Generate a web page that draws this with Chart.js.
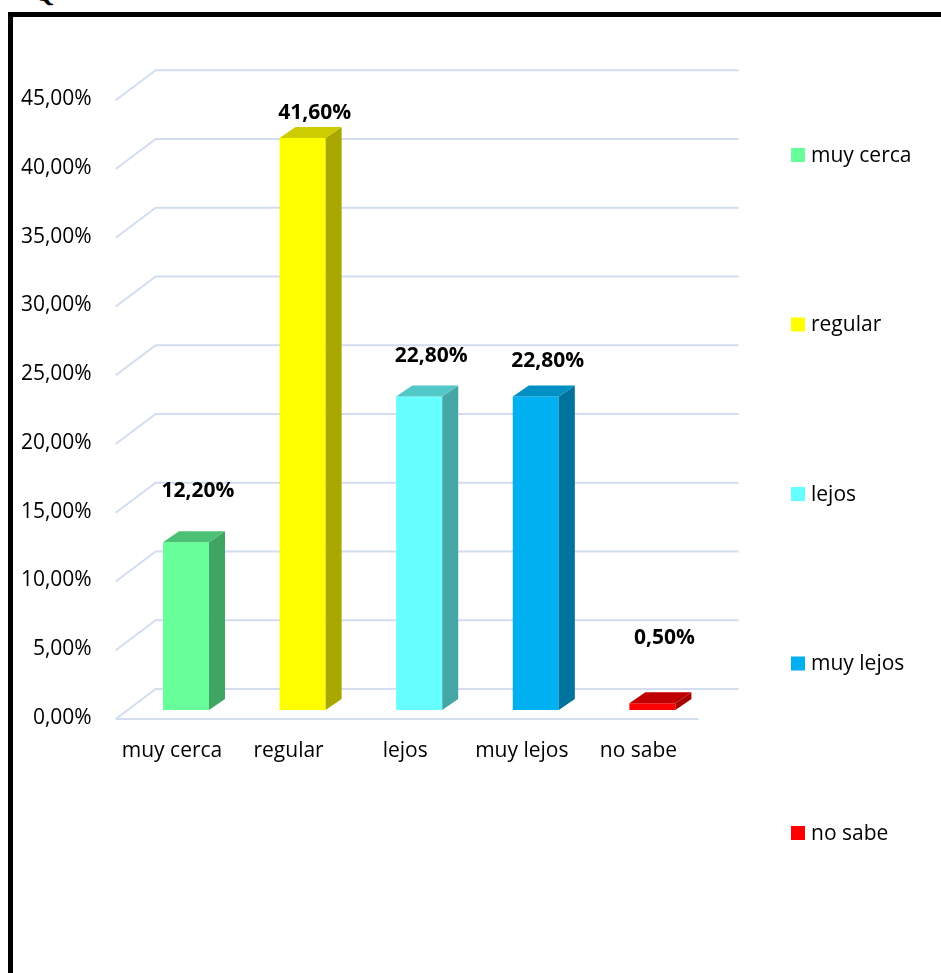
<!DOCTYPE html>
<html>
<head>
<meta charset="utf-8">
<script src="https://cdn.jsdelivr.net/npm/chart.js@4.4.1/dist/chart.umd.min.js"></script>
<style>
    body { margin: 0; background: #fff; overflow: hidden; }
    #wrap { position: relative; width: 941px; height: 973px; }
    #frame { position: absolute; left: 8px; top: 12px; width: 960px; height: 990px; border: 5px solid #000; box-sizing: border-box; pointer-events: none; }
    #cut-title { position: absolute; left: 34px; top: -22px; font: bold 26px "Liberation Serif", serif; color: #000; }
    canvas { position: absolute; left: 0; top: 0; }
</style>
</head>
<body>
<div id="wrap">
    <div id="cut-title">Q</div>
    <canvas id="chart" width="941" height="973"></canvas>
    <div id="frame"></div>
</div>
<script>
// values (percent)
const categories = ["muy cerca", "regular", "lejos", "muy lejos", "no sabe"];
const values = [12.2, 41.6, 22.8, 22.8, 0.5];
const yTicks = [0, 5, 10, 15, 20, 25, 30, 35, 40, 45];

// colours: front, side, top
const frontColors = ["#66FF99", "#FFFF00", "#66FFFF", "#00B0F0", "#FF0000"];
const sideColors = ["#40A463", "#A9A800", "#45A6A6", "#00739C", "#A60000"];
const topColors = ["#4CC075", "#CCCC00", "#52C8C8", "#0090C4", "#C00000"];

// how far above each bar its label sits (pixels)
const labelLift = [51, 25, 40, 35, 65];

const font = '"Open Sans", sans-serif';
const gridColor = "#D2DDF0";
const DX = 16, DY = 11;          // bar depth
const FRONT = { x: -12, y: 9 };  // floor front edge relative to bar plane
const BACK = { x: 28, y: -21 };  // back wall relative to bar plane

const fmt = v => v.toFixed(2).replace(".", ",") + "%";

// 3D-ish grid behind the bars
const gridPlugin = {
    id: "grid3d",
    beforeDatasetsDraw(chart) {
        const { ctx, chartArea: a, scales: { y } } = chart;
        ctx.save();
        ctx.strokeStyle = gridColor;
        ctx.lineWidth = 2;
        yTicks.forEach(v => {
            const py = y.getPixelForValue(v);
            ctx.beginPath();
            ctx.moveTo(a.left + FRONT.x, py + FRONT.y);
            ctx.lineTo(a.left + BACK.x, py + BACK.y);
            ctx.lineTo(a.right + BACK.x, py + BACK.y);
            ctx.stroke();
        });
        const p0 = y.getPixelForValue(0);
        ctx.beginPath();
        ctx.moveTo(a.left + FRONT.x, p0 + FRONT.y);
        ctx.lineTo(a.right + FRONT.x, p0 + FRONT.y);
        ctx.stroke();
        ctx.restore();
    }
};

// sides, tops, value labels
const barPlugin = {
    id: "bars3d",
    afterDatasetsDraw(chart) {
        const { ctx } = chart;
        const meta = chart.getDatasetMeta(0);
        ctx.save();
        meta.data.forEach((bar, i) => {
            const { x, y, base, width } = bar.getProps(["x", "y", "base", "width"], true);
            const l = x - width / 2, r = x + width / 2;
            // side
            ctx.fillStyle = sideColors[i];
            ctx.beginPath();
            ctx.moveTo(r, y);
            ctx.lineTo(r + DX, y - DY);
            ctx.lineTo(r + DX, base - DY);
            ctx.lineTo(r, base);
            ctx.closePath();
            ctx.fill();
            // top
            ctx.fillStyle = topColors[i];
            ctx.beginPath();
            ctx.moveTo(l, y);
            ctx.lineTo(l + DX, y - DY);
            ctx.lineTo(r + DX, y - DY);
            ctx.lineTo(r, y);
            ctx.closePath();
            ctx.fill();
            // value label
            ctx.fillStyle = "#000";
            ctx.font = "bold 21px " + font;
            ctx.textAlign = "center";
            ctx.textBaseline = "middle";
            ctx.fillText(fmt(values[i]), x + 12, y - labelLift[i]);
        });
        ctx.restore();
    },
    afterDraw(chart) {
        // legend on the right, one entry per category
        const { ctx } = chart;
        ctx.save();
        ctx.font = "21px " + font;
        ctx.textBaseline = "middle";
        ctx.textAlign = "left";
        categories.forEach((c, i) => {
            const cy = 155 + i * 169.5;
            ctx.fillStyle = frontColors[i];
            ctx.fillRect(791, cy - 7, 14, 14);
            ctx.fillStyle = "#000";
            ctx.fillText(c, 811, cy + 1);
        });
        ctx.restore();
    }
};

new Chart(document.getElementById("chart"), {
    type: "bar",
    data: {
        labels: categories,
        datasets: [{
            data: values,
            backgroundColor: frontColors,
            borderWidth: 0,
            categoryPercentage: 1,
            barPercentage: 0.395
        }]
    },
    options: {
        responsive: false,
        animation: false,
        layout: { padding: { left: 0, right: 230.3, top: 91.25, bottom: 0 } },
        plugins: { legend: { display: false }, tooltip: { enabled: false } },
        scales: {
            x: {
                grid: { display: false },
                border: { display: false },
                ticks: { color: "#000", font: { family: font, size: 21 }, padding: 20, labelOffset: -14, maxRotation: 0 },
                afterFit: s => { s.height = 263; }
            },
            y: {
                min: 0,
                max: 45,
                grid: { display: false },
                border: { display: false },
                ticks: { stepSize: 5, color: "#000", font: { family: font, size: 21 }, padding: 28, labelOffset: 8, callback: v => fmt(v) },
                afterFit: s => { s.width = 127.7; }
            }
        }
    },
    plugins: [gridPlugin, barPlugin]
});
</script>
</body>
</html>
